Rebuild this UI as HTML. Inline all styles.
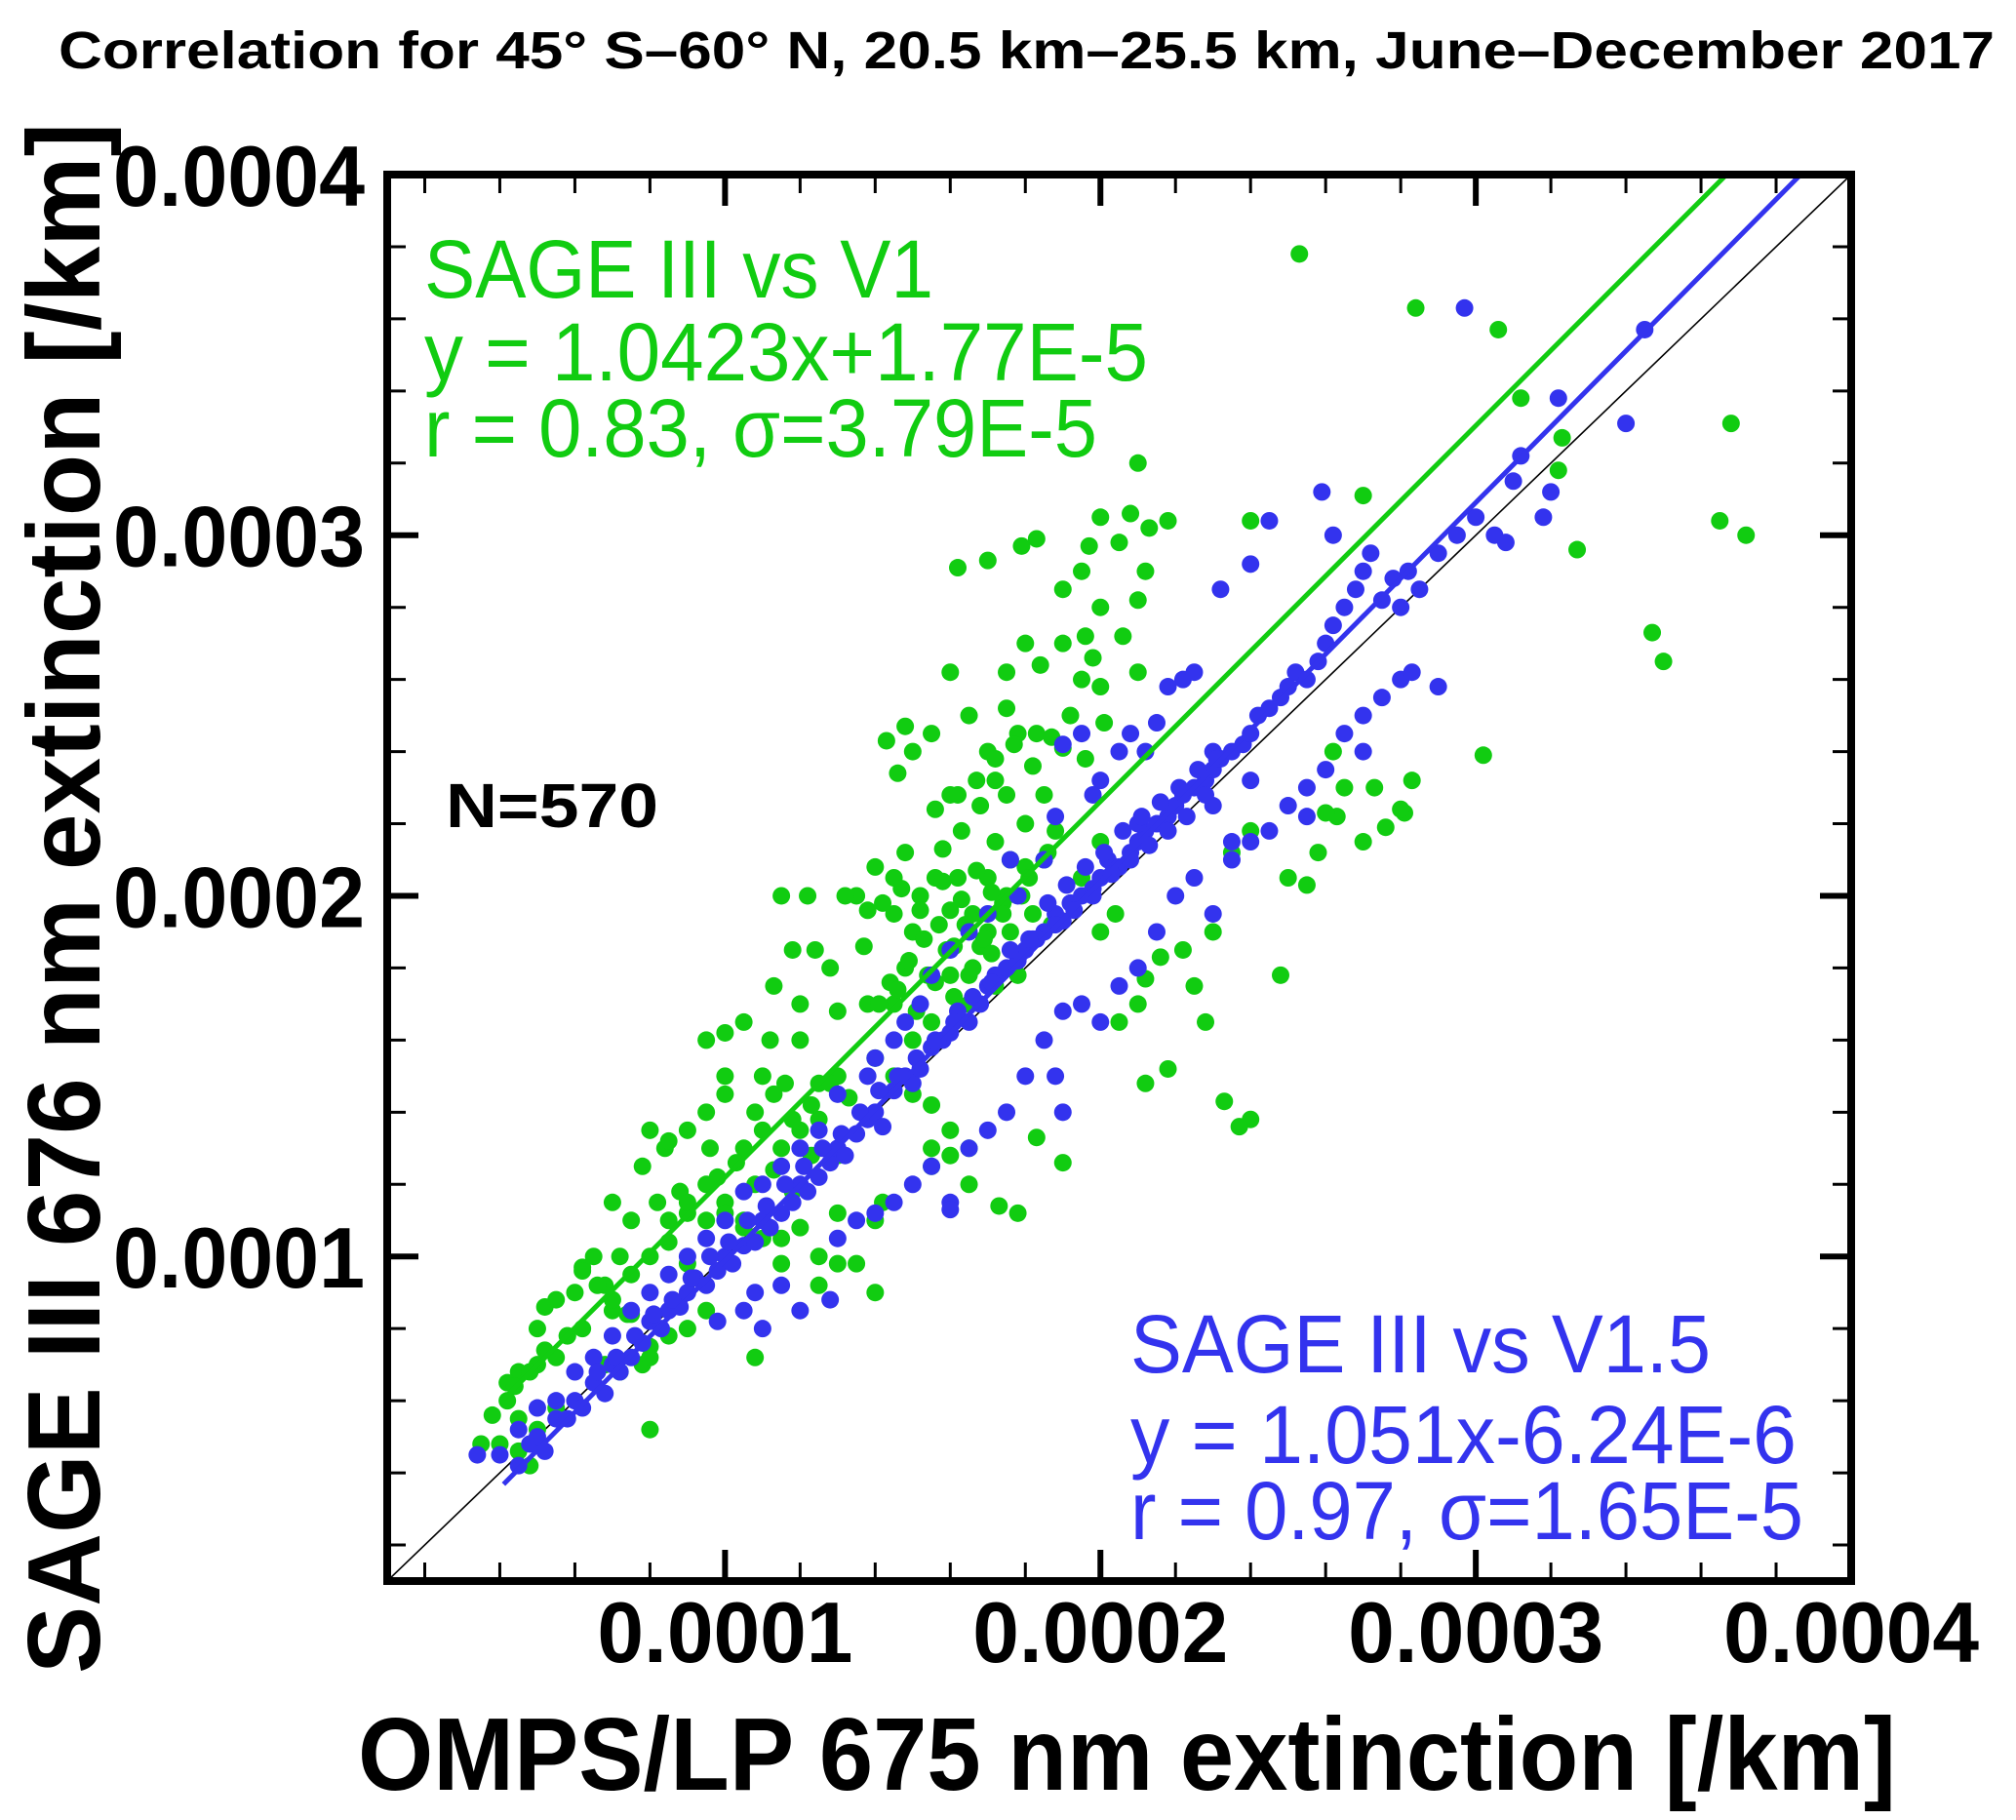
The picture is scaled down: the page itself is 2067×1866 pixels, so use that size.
<!DOCTYPE html>
<html><head><meta charset="utf-8"><style>
html,body{margin:0;padding:0;background:#fff;}
svg{display:block;font-family:"Liberation Sans",Arial,sans-serif;}
</style></head><body>
<svg id="chart" width="2067" height="1866" viewBox="0 0 2067 1866" xmlns="http://www.w3.org/2000/svg">
<text x="60" y="70" font-size="54" font-weight="bold" textLength="1985" lengthAdjust="spacingAndGlyphs">Correlation for 45° S–60° N, 20.5 km–25.5 km, June–December 2017</text>
<g id="marks"></g>
<g id="axes"></g>
<text x="367" y="1835" font-size="106" font-weight="bold" textLength="1577" lengthAdjust="spacingAndGlyphs">OMPS/LP 675 nm extinction [/km]</text>
<text transform="translate(102,1716) rotate(-90)" x="0" y="0" font-size="106" font-weight="bold" textLength="1590" lengthAdjust="spacingAndGlyphs">SAGE III 676 nm extinction [/km]</text>
<g fill="#11cc11" font-size="84">
<text x="435" y="305" textLength="522" lengthAdjust="spacingAndGlyphs">SAGE III vs V1</text>
<text x="435" y="390" textLength="742" lengthAdjust="spacingAndGlyphs">y = 1.0423x+1.77E-5</text>
<text x="435" y="468" textLength="690" lengthAdjust="spacingAndGlyphs">r = 0.83, σ=3.79E-5</text>
</g>
<g fill="#3333ee" font-size="84">
<text x="1159" y="1407" textLength="595" lengthAdjust="spacingAndGlyphs">SAGE III vs V1.5</text>
<text x="1159" y="1500" textLength="683" lengthAdjust="spacingAndGlyphs">y = 1.051x-6.24E-6</text>
<text x="1159" y="1578" textLength="690" lengthAdjust="spacingAndGlyphs">r = 0.97, σ=1.65E-5</text>
</g>
<text x="457" y="848" font-size="64" font-weight="bold" textLength="218" lengthAdjust="spacingAndGlyphs">N=570</text>
</svg>
<script>
// values in units of 1e-6 /km
const greenX=[253,284,306,312,323,322,368,365,372,347,350,327,302,283,281,270,240,210,200,208,213,218,205,197,195,183,179,170,162,190,210,212,200,196,190,206,198,210,200,195,180,184,175,160,175,165,178,170,183,190,196,201,192,150,148,155,143,146,160,168,175,172,185,180,163,156,158,148,145,140,135,138,132,145,152,156,160,150,148,137,128,124,122,115,118,113,120,130,138,145,120,112,105,100,95,100,110,116,125,130,140,145,150,155,160,155,160,165,165,155,100,95,90,96,105,110,115,120,125,130,88,80,84,78,82,70,75,85,90,95,100,105,110,115,120,125,130,140,142,125,115,72,65,62,68,60,55,52,50,58,62,70,75,80,85,90,95,68,72,78,80,55,50,45,42,42,38,45,50,55,40,45,35,48,80,108,130,135,140,178,173,183,190,212,218,233,240,237,248,228,216,210,205,212,225,230,200,204,182,187,195,200,188,222,235,240,250,255,258,263,265,270,273,280,276,262,260,168,170,175,178,172,165,162,172,180,185,155,160,165,150,142,147,152,158,163,167,171,176,181,186,153,157,161,166,170,174,144,149,154,159,164,169,174,179,141,146,151,156,161,166,171,176,162,167,172,177,182,187,108,113,118,123,128,133,98,103,108,113,118,123,85,90,95,100,105,75,80,85,90,62,66,70,74,58,52,48,44];
const greenY=[378,363,357,338,327,318,331,304,300,273,265,296,239,232,223,311,304,320,305,306,302,304,298,297,290,299,297,293,291,285,282,290,280,272,270,272,266,262,258,260,270,264,262,262,252,250,245,240,245,241,238,248,250,240,247,245,243,234,228,225,228,232,228,220,218,224,213,212,205,208,200,196,200,195,200,205,196,190,180,186,180,185,200,200,185,175,170,168,170,170,160,160,165,162,160,150,150,148,148,150,155,150,145,142,135,130,128,130,120,125,145,140,135,130,130,135,130,135,138,128,118,135,130,125,115,115,110,110,112,110,115,110,105,105,108,100,112,110,115,92,98,100,100,97,92,90,88,86,80,78,80,85,84,75,78,80,85,70,68,70,72,72,70,68,65,60,56,55,52,58,48,46,48,42,52,72,98,98,90,112,114,133,126,148,152,143,138,136,178,165,183,170,165,177,175,190,190,195,195,192,205,215,218,185,212,218,205,203,212,222,230,215,230,224,219,240,223,186,205,200,178,175,178,205,215,208,210,165,178,170,160,198,202,196,204,199,207,201,210,205,212,188,192,186,195,190,198,176,182,178,185,192,188,195,200,170,174,168,176,172,180,184,190,228,232,238,242,236,244,140,145,138,142,148,144,122,126,120,124,118,128,132,115,120,112,108,95,100,104,98,96,92,88,84,78,74,68,64];
const blueX=[34,40,45,48,50,52,55,58,60,62,65,68,70,72,75,78,80,83,85,88,90,92,95,98,100,102,105,108,110,112,115,118,120,122,125,128,130,132,135,138,140,142,145,148,150,152,155,158,160,162,165,168,170,172,175,178,180,182,185,188,190,192,195,198,200,202,205,208,210,212,215,218,220,222,225,228,230,232,235,238,240,242,245,248,250,252,255,258,260,262,265,268,270,272,275,278,280,282,285,290,295,300,305,308,310,312,318,322,320,340,345,297,262,259,245,240,232,222,218,225,212,215,200,205,208,195,190,198,188,185,178,176,170,165,160,155,152,148,145,140,138,130,125,120,115,110,105,100,95,90,85,80,75,70,65,60,55,50,45,98,105,110,120,128,115,108,130,135,140,145,150,155,160,165,170,175,180,185,190,195,200,205,210,215,220,225,230,235,240,250,255,260,265,270,275,280,283,290,270,255,245,235,188,190,160,230,210,230,240,186,191,196,201,206,211,216,221,226,231,183,188,193,198,203,208,213,218,223,228,176,181,166,171,156,161,146,151,136,141,126,131,116,121,106,111,96,101,86,91,76,81,66,71];
const blueY=[45,45,42,48,50,46,55,55,60,58,65,62,70,68,72,76,82,80,85,86,90,94,92,96,100,98,103,104,110,108,112,115,120,118,122,126,130,128,134,138,140,136,146,150,148,152,158,160,162,168,165,170,175,178,180,182,185,188,190,195,193,198,200,202,205,210,208,212,215,218,220,222,225,228,230,232,235,238,240,242,245,250,252,255,258,262,260,265,270,275,280,285,290,295,282,288,280,290,285,295,300,305,300,298,315,322,305,338,312,331,357,363,300,312,304,292,285,260,258,262,240,248,232,240,245,245,242,228,222,210,200,210,195,190,185,178,170,165,160,155,150,145,135,130,125,120,118,110,105,100,95,90,85,78,72,68,60,58,52,82,85,80,85,88,92,90,105,110,112,115,120,125,115,130,135,140,150,160,168,170,165,175,180,190,200,205,195,210,215,225,230,235,245,250,255,260,262,258,240,222,218,215,150,140,113,240,220,225,232,198,203,208,212,218,222,226,230,235,238,188,192,196,200,206,210,214,218,222,228,185,188,172,176,160,165,150,155,140,146,130,134,120,125,110,114,100,104,88,94,78,84,68,72];
const xTicks=[100,200,300,400];
const yTicks=[100,200,300,400];
const xTickLabels=["0.0001","0.0002","0.0003","0.0004"];
const yTickLabels=["0.0001","0.0002","0.0003","0.0004"];
const fitV1=[1.0423,17.7];
const fitV15=[1.051,-6.24];

const L=397,R=1898,T=179,B=1621,MIN=10,MAX=400;
const sx=v=>L+(v-MIN)/(MAX-MIN)*(R-L);
const sy=v=>B-(v-MIN)/(MAX-MIN)*(B-T);
const NS="http://www.w3.org/2000/svg";
function mk(tag,attrs,parent){const e=document.createElementNS(NS,tag);for(const k in attrs)e.setAttribute(k,attrs[k]);parent.appendChild(e);return e;}
const marks=document.getElementById('marks');
const axes=document.getElementById('axes');
const clip=mk('clipPath',{id:'pc'},document.getElementById('chart'));
mk('rect',{x:L,y:T,width:R-L,height:B-T},clip);
marks.setAttribute('clip-path','url(#pc)');

const diag=mk('line',{x1:sx(MIN),y1:sy(MIN),x2:sx(MAX),y2:sy(MAX),stroke:'#000','stroke-width':1.6},marks);



function dots(xs,ys,color,name){
  const g=mk('g',{fill:color},marks);
  
  
  for(let i=0;i<xs.length;i++){
    const c=mk('circle',{cx:sx(xs[i]),cy:sy(ys[i]),r:9},g);
    
    
  }
}
dots(greenX,greenY,'#11cc11','v1');
dots(blueX,blueY,'#3333ee','v15');

function fit(f,color,name){
  const x0=41,x1=MAX;
  const ln=mk('line',{x1:sx(x0),y1:sy(f[0]*x0+f[1]),x2:sx(x1),y2:sy(f[0]*x1+f[1]),stroke:color,'stroke-width':5},marks);
  
  
}
fit(fitV1,'#11cc11','v1');
fit(fitV15,'#3333ee','v15');

const fr=mk('rect',{x:L,y:T,width:R-L,height:B-T,fill:'none',stroke:'#000','stroke-width':8},axes);


for(let v=20;v<MAX;v+=20){
  const major=(v%100===0), len=major?32:19, w=major?6:3;
  const px=sx(v), py=sy(v);
  mk('line',{x1:px,y1:B,x2:px,y2:B-len,stroke:'#000','stroke-width':w},axes);
  mk('line',{x1:px,y1:T,x2:px,y2:T+len,stroke:'#000','stroke-width':w},axes);
  mk('line',{x1:L,y1:py,x2:L+len,y2:py,stroke:'#000','stroke-width':w},axes);
  mk('line',{x1:R,y1:py,x2:R-len,y2:py,stroke:'#000','stroke-width':w},axes);
}
xTicks.forEach((v,i)=>{
  const t=mk('text',{x:sx(v),y:1704,'font-size':88,'font-weight':'bold','text-anchor':'middle',textLength:262,lengthAdjust:'spacingAndGlyphs'},axes);
  t.textContent=xTickLabels[i];
  
  
});
yTicks.forEach((v,i)=>{
  const t=mk('text',{x:374,y:sy(v)+32,'font-size':88,'font-weight':'bold','text-anchor':'end',textLength:258,lengthAdjust:'spacingAndGlyphs'},axes);
  t.textContent=yTickLabels[i];
  
  
});
</script>
</body></html>
